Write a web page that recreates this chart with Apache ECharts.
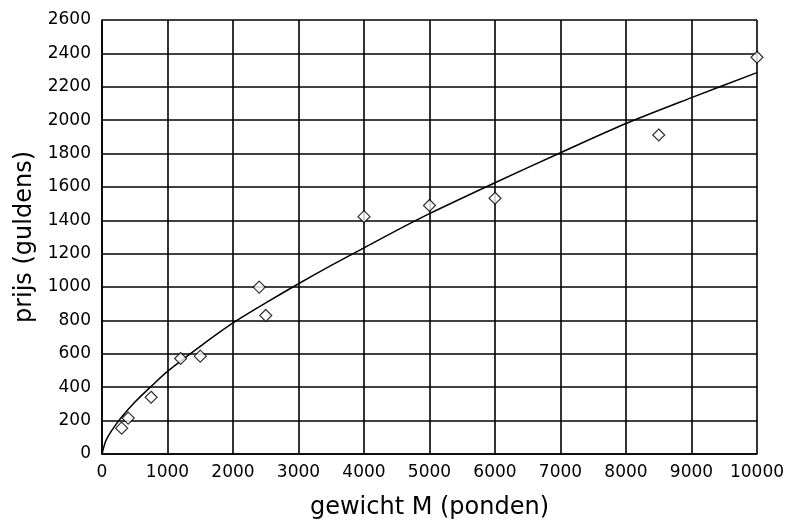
<!DOCTYPE html>
<html>
<head>
<meta charset="utf-8">
<script src="https://cdn.jsdelivr.net/npm/echarts@6/dist/echarts.min.js"></script>
<style>
html,body{margin:0;padding:0;background:#fff;}
#chart{width:789px;height:525px;}
</style>
</head>
<body>
<div id="chart"></div>
<script>
// Measured data points (gewicht M in ponden, prijs in guldens)
var pointWeights = [300, 400, 750, 1200, 1500, 2400, 2500, 4000, 5000, 6000, 8500, 10000];
var pointPrices  = [155, 215, 340, 572, 586, 1000, 830, 1422, 1489, 1532, 1911, 2377];

// Fitted curve
var curveWeights = [0, 50, 100, 200, 300, 500, 750, 1000, 1500, 2000, 2500, 3000, 3500, 4000, 4500, 5000, 6000, 7000, 8000, 9000, 10000];
var curvePrices  = [0, 70, 110, 170, 222, 310, 405, 495, 645, 785, 905, 1020, 1130, 1235, 1340, 1440, 1625, 1805, 1980, 2135, 2285];

var xTitle = 'gewicht M (ponden)';
var yTitle = 'prijs (guldens)';

var scatterData = pointWeights.map(function (w, i) { return [w, pointPrices[i]]; });
var curveData = curveWeights.map(function (w, i) { return [w, curvePrices[i]]; });

var chart = echarts.init(document.getElementById('chart'), null, {renderer: 'canvas'});
var font = 'DejaVu Sans';
function plain(v) { return String(v); }
chart.setOption({
  animation: false,
  backgroundColor: '#ffffff',
  grid: {left: 102, right: 32, top: 20, bottom: 70, show: false},
  xAxis: {
    type: 'value', min: 0, max: 10000, interval: 1000,
    name: xTitle, nameLocation: 'middle', nameGap: 42,
    nameTextStyle: {fontFamily: font, fontSize: 24, color: '#000'},
    axisLine: {show: true, onZero: false, lineStyle: {color: '#000', width: 1.6}},
    axisTick: {show: false},
    axisLabel: {fontFamily: font, fontSize: 17, color: '#000', margin: 10, formatter: plain},
    splitLine: {show: true, lineStyle: {color: '#000', width: 1.6}}
  },
  yAxis: {
    type: 'value', min: 0, max: 2600, interval: 200,
    name: yTitle, nameLocation: 'middle', nameGap: 57,
    nameTextStyle: {fontFamily: font, fontSize: 24, color: '#000'},
    axisLine: {show: true, onZero: false, lineStyle: {color: '#000', width: 1.6}},
    axisTick: {show: false},
    axisLabel: {fontFamily: font, fontSize: 17, color: '#000', margin: 11, formatter: plain},
    splitLine: {show: true, lineStyle: {color: '#000', width: 1.6}}
  },
  series: [
    {
      type: 'line', data: curveData, smooth: 0.3, showSymbol: false,
      lineStyle: {color: '#000', width: 1.5}, z: 3
    },
    {
      type: 'scatter', data: scatterData, symbol: 'diamond', symbolSize: [12, 12],
      itemStyle: {color: '#fff', borderColor: '#000', borderWidth: 1.2}, z: 4
    }
  ]
});
</script>
</body>
</html>
